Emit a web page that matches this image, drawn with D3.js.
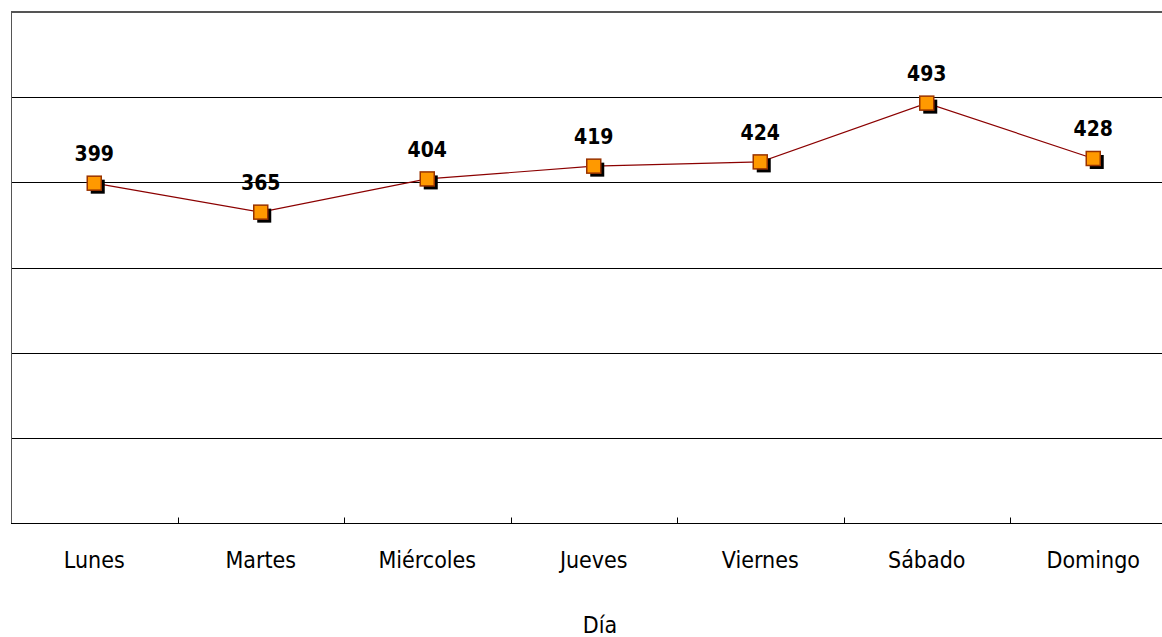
<!DOCTYPE html>
<html>
<head>
<meta charset="utf-8">
<script src="https://cdn.jsdelivr.net/npm/d3@7"></script>
<style>
body { margin: 0; background: #fff; }
text { font-family: "DejaVu Sans Condensed", "DejaVu Sans", sans-serif; font-stretch: condensed; }
</style>
</head>
<body>
<div id="chart"></div>
<script>
// data
var dias = ["Lunes", "Martes", "Miércoles", "Jueves", "Viernes", "Sábado", "Domingo"];
var valores = [399, 365, 404, 419, 424, 493, 428];
var yTicks = [0, 100, 200, 300, 400, 500, 600];

var W = 1162, H = 637;
var margin = {top: 12, left: 11, bottom: 114};
var band = 166.5;

var svg = d3.select("#chart").append("svg")
    .attr("width", W)
    .attr("height", H);

var x = d3.scaleBand()
    .domain(dias)
    .range([margin.left, margin.left + band * dias.length]);

var y = d3.scaleLinear()
    .domain([0, 600])
    .range([H - margin.bottom, margin.top]);

// gridlines
svg.append("g")
    .selectAll("line")
    .data(yTicks.filter(function (d) { return d > 0 && d < 600; }))
    .enter().append("line")
    .attr("x1", margin.left)
    .attr("x2", W)
    .attr("y1", function (d) { return Math.round(y(d)) + 0.5; })
    .attr("y2", function (d) { return Math.round(y(d)) + 0.5; })
    .attr("stroke", "#000")
    .attr("stroke-width", 1);

// top and left border
svg.append("line")
    .attr("x1", margin.left).attr("x2", W)
    .attr("y1", y(600)).attr("y2", y(600))
    .attr("stroke", "#555").attr("stroke-width", 2);
svg.append("line")
    .attr("x1", margin.left + 0.5).attr("x2", margin.left + 0.5)
    .attr("y1", y(600)).attr("y2", y(0))
    .attr("stroke", "#555").attr("stroke-width", 1);

// x axis
var xAxis = svg.append("g")
    .attr("transform", "translate(0," + (Math.round(y(0)) + 0.5) + ")");
xAxis.append("line")
    .attr("x1", margin.left).attr("x2", W)
    .attr("stroke", "#000");
xAxis.selectAll(".tick")
    .data(dias.slice(1))
    .enter().append("line")
    .attr("x1", function (d) { return Math.round(x(d)) + 0.5; })
    .attr("x2", function (d) { return Math.round(x(d)) + 0.5; })
    .attr("y1", 0).attr("y2", -6)
    .attr("stroke", "#000");
xAxis.selectAll(".lbl")
    .data(dias)
    .enter().append("text")
    .attr("x", function (d) { return x(d) + x.bandwidth() / 2; })
    .attr("y", 44)
    .attr("text-anchor", "middle")
    .attr("font-size", "23px")
    .attr("fill", "#000")
    .text(function (d) { return d; });

svg.append("text")
    .attr("x", 600)
    .attr("y", 633)
    .attr("text-anchor", "middle")
    .attr("font-size", "23px")
    .text("Día");

// line
var pts = dias.map(function (d, i) { return {dia: d, v: valores[i]}; });
var cx = function (d) { return x(d.dia) + x.bandwidth() / 2; };

svg.append("path")
    .datum(pts)
    .attr("fill", "none")
    .attr("stroke", "#8b0000")
    .attr("stroke-width", 1.2)
    .attr("d", d3.line().x(cx).y(function (d) { return y(d.v); }));

// markers with shadow
var s = 14;
svg.selectAll(".shadow")
    .data(pts)
    .enter().append("rect")
    .attr("x", function (d) { return cx(d) - s / 2 + 3.5; })
    .attr("y", function (d) { return y(d.v) - s / 2 + 3.5; })
    .attr("width", s).attr("height", s)
    .attr("fill", "#000");
svg.selectAll(".mark")
    .data(pts)
    .enter().append("rect")
    .attr("x", function (d) { return cx(d) - s / 2; })
    .attr("y", function (d) { return y(d.v) - s / 2; })
    .attr("width", s).attr("height", s)
    .attr("fill", "#ff9900")
    .attr("stroke", "#993300")
    .attr("stroke-width", 1.5);

// value labels
svg.selectAll(".val")
    .data(pts)
    .enter().append("text")
    .attr("x", cx)
    .attr("y", function (d) { return y(d.v) - 22; })
    .attr("text-anchor", "middle")
    .attr("font-size", "21px")
    .attr("font-weight", "bold")
    .text(function (d) { return d.v; });
</script>
</body>
</html>
